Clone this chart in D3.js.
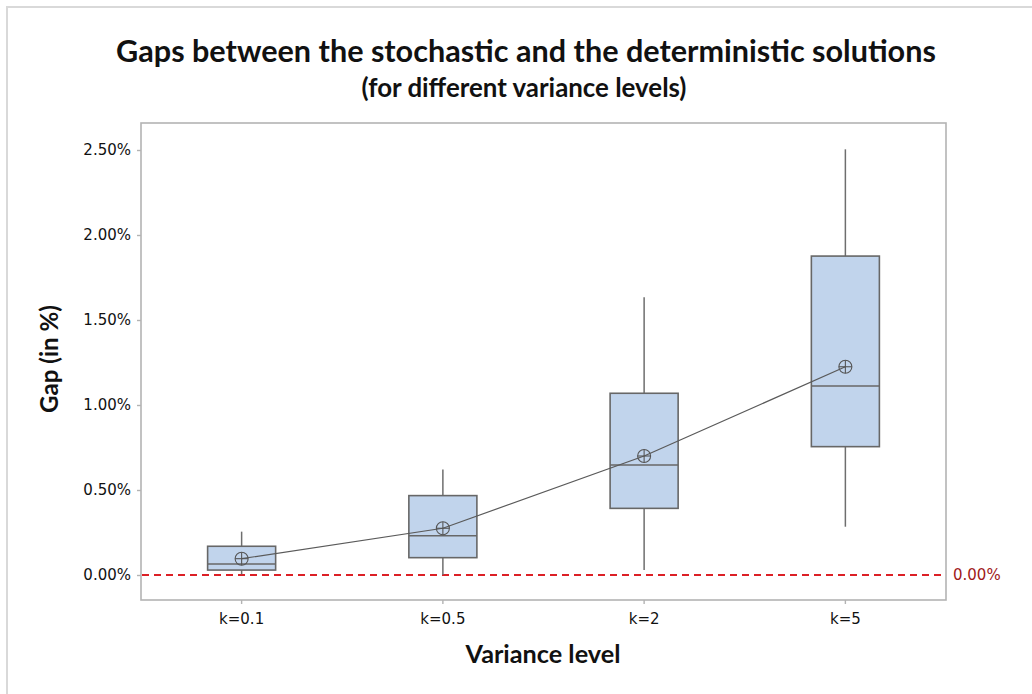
<!DOCTYPE html>
<html>
<head>
<meta charset="utf-8">
<script src="https://cdn.jsdelivr.net/npm/d3@7/dist/d3.min.js"></script>
<style>
  html, body { margin: 0; padding: 0; background: #fff; }
  svg { display: block; }
</style>
</head>
<body>
<svg id="chart" width="1032" height="694"></svg>
<script>
// ---- Data (values in %) ----
const categories = ["k=0.1", "k=0.5", "k=2", "k=5"];
const whiskerLow  = [0.004, 0.000, 0.029, 0.284];
const q1Values    = [0.029, 0.102, 0.392, 0.755];
const medians     = [0.065, 0.231, 0.647, 1.112];
const q3Values    = [0.169, 0.467, 1.069, 1.876];
const whiskerHigh = [0.255, 0.620, 1.634, 2.504];
const means       = [0.096, 0.275, 0.700, 1.225];
const yTicks      = [0, 0.5, 1.0, 1.5, 2.0, 2.5];
const refValue    = 0;

const titleText = "Gaps between the stochastic and the deterministic solutions";
const subtitleText = "(for different variance levels)";
const xLabel = "Variance level";
const yLabel = "Gap (in %)";

// ---- Layout ----
const svg = d3.select("#chart");
const plot = { left: 141, right: 946, top: 123, bottom: 600 };

const x = d3.scaleBand().domain(categories).range([plot.left, plot.right]).paddingInner(0).paddingOuter(0);
const y = d3.scaleLinear().domain([0, 2.5]).range([575, 150]);
const boxW = x.bandwidth() * 0.338;
const cx = c => x(c) + x.bandwidth() / 2;

// outer light border
svg.append("path")
  .attr("d", "M7,694 L7,7 L1032,7")
  .attr("fill", "none").attr("stroke", "#d9d9d9").attr("stroke-width", 2);

// plot frame
svg.append("rect")
  .attr("x", plot.left).attr("y", plot.top)
  .attr("width", plot.right - plot.left).attr("height", plot.bottom - plot.top)
  .attr("fill", "none").attr("stroke", "#b3b3b3").attr("stroke-width", 1.6);

const tickFont = "DejaVu Sans, sans-serif";

// Y axis
const yAxis = d3.axisLeft(y).tickValues(yTicks).tickSize(4).tickPadding(6)
  .tickFormat(d => d.toFixed(2) + "%");
const gy = svg.append("g").attr("transform", `translate(${plot.left},0)`).call(yAxis);
gy.select(".domain").remove();
gy.selectAll(".tick line").attr("stroke", "#b3b3b3").attr("stroke-width", 1.4);
gy.selectAll(".tick text").attr("fill", "#111").style("font-family", tickFont).style("font-size", "15px");

// X axis
const xAxis = d3.axisBottom(x).tickSize(4).tickPadding(9);
const gx = svg.append("g").attr("transform", `translate(0,${plot.bottom})`).call(xAxis);
gx.select(".domain").remove();
gx.selectAll(".tick line").attr("stroke", "#b3b3b3").attr("stroke-width", 1.4);
gx.selectAll(".tick text").attr("fill", "#111").style("font-family", tickFont).style("font-size", "15px");

// reference dashed line
svg.append("line")
  .attr("x1", plot.left + 1).attr("x2", plot.right - 1)
  .attr("y1", y(refValue)).attr("y2", y(refValue))
  .attr("stroke", "#dc2026").attr("stroke-width", 2)
  .attr("stroke-dasharray", "7,5");
svg.append("text")
  .attr("x", plot.right + 7).attr("y", y(refValue))
  .attr("dominant-baseline", "central")
  .attr("fill", "#a01818")
  .style("font-family", tickFont).style("font-size", "15px")
  .text(refValue.toFixed(2) + "%");

// boxes
const boxes = svg.append("g");
categories.forEach((c, i) => {
  const g = boxes.append("g");
  const xc = cx(c);
  g.append("line").attr("x1", xc).attr("x2", xc)
    .attr("y1", y(whiskerHigh[i])).attr("y2", y(q3Values[i]))
    .attr("stroke", "#6e6e6e").attr("stroke-width", 1.5);
  g.append("line").attr("x1", xc).attr("x2", xc)
    .attr("y1", y(q1Values[i])).attr("y2", y(whiskerLow[i]))
    .attr("stroke", "#6e6e6e").attr("stroke-width", 1.5);
  g.append("rect")
    .attr("x", xc - boxW / 2).attr("width", boxW)
    .attr("y", y(q3Values[i])).attr("height", y(q1Values[i]) - y(q3Values[i]))
    .attr("fill", "#c1d4ec").attr("stroke", "#676767").attr("stroke-width", 1.6);
  g.append("line")
    .attr("x1", xc - boxW / 2).attr("x2", xc + boxW / 2)
    .attr("y1", y(medians[i])).attr("y2", y(medians[i]))
    .attr("stroke", "#676767").attr("stroke-width", 1.6);
});

// mean connect line
const line = d3.line().x((d, i) => cx(categories[i])).y(d => y(d));
svg.append("path").datum(means)
  .attr("d", line).attr("fill", "none")
  .attr("stroke", "#5a5a5a").attr("stroke-width", 1.2);

// mean symbols (circle with cross)
const r = 6.5;
categories.forEach((c, i) => {
  const xc = cx(c), yc = y(means[i]);
  const g = svg.append("g").attr("stroke", "#555").attr("stroke-width", 1.1).attr("fill", "none");
  g.append("circle").attr("cx", xc).attr("cy", yc).attr("r", r);
  g.append("line").attr("x1", xc - r).attr("x2", xc + r).attr("y1", yc).attr("y2", yc);
  g.append("line").attr("x1", xc).attr("x2", xc).attr("y1", yc - r).attr("y2", yc + r);
});

// ---- Titles / labels, fitted to target widths ----
function fitText(sel, targetWidth, baseSize) {
  const w = sel.node().getComputedTextLength();
  const size = baseSize * targetWidth / w;
  sel.style("font-size", size + "px");
}
const boldFont = "Lato, 'Open Sans', sans-serif";

const t1 = svg.append("text").attr("x", 526).attr("y", 62).attr("text-anchor", "middle")
  .style("font-family", boldFont).style("font-weight", "bold").style("font-size", "24px")
  .attr("fill", "#111").text(titleText);
fitText(t1, 820, 24);

const t2 = svg.append("text").attr("x", 524).attr("y", 97).attr("text-anchor", "middle")
  .style("font-family", boldFont).style("font-weight", "bold").style("font-size", "18px")
  .attr("fill", "#111").text(subtitleText);
fitText(t2, 325, 18);

const xl = svg.append("text").attr("x", 543).attr("y", 663).attr("text-anchor", "middle")
  .style("font-family", boldFont).style("font-weight", "bold").style("font-size", "20px")
  .attr("fill", "#111").text(xLabel);
fitText(xl, 155, 20);

const yl = svg.append("text")
  .attr("transform", "translate(58,359) rotate(-90)")
  .attr("text-anchor", "middle")
  .style("font-family", boldFont).style("font-weight", "bold").style("font-size", "20px")
  .attr("fill", "#111").text(yLabel);
fitText(yl, 108, 20);
</script>
</body>
</html>
